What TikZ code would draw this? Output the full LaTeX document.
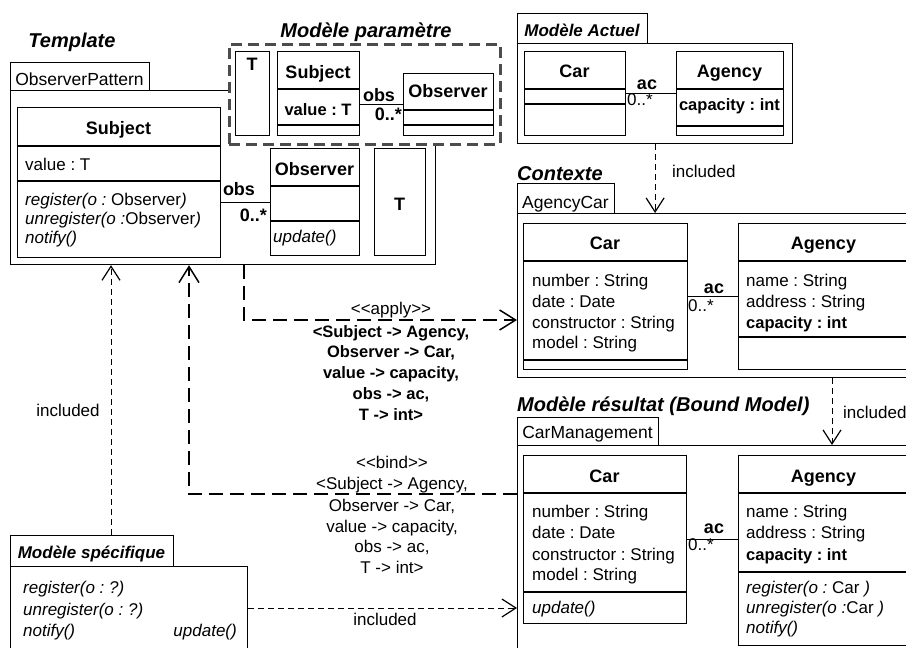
\documentclass[tikz,border=0pt]{standalone}
\usepackage{fontspec}
\setmainfont{Liberation Sans}
\usetikzlibrary{arrows.meta,calc}
\frenchspacing
\newcommand\ubx[5]{\node[ubox, minimum width=#4pt, minimum height=#5pt] (#1) at (#2,#3) {};}
\newcommand\usep[2]{\draw[line width=1.2pt] ($(#1.north west)+(0,#2)$) -- ($(#1.north east)+(0,#2)$);}
\tikzset{
 ubox/.style={draw, line width=1.2pt, anchor=north west, inner sep=0pt, fill=white},
 pbox/.style={draw=black!70, fill=white, line width=2.6pt, dash pattern=on 11pt off 6pt, anchor=north west, inner sep=0pt},
 txt/.style={inner sep=0pt, anchor=base, font=\fontsize{17}{20}\selectfont},
 txtl/.style={txt, anchor=base west},
 bld/.style={inner sep=0pt, anchor=base, font=\fontsize{16.5}{20}\selectfont\bfseries},
 lbl/.style={inner sep=0pt, anchor=base, font=\fontsize{18}{20}\selectfont\bfseries},
 cname/.style={inner sep=0pt, anchor=base, font=\fontsize{18}{20}\selectfont\bfseries},
 ttl/.style={inner sep=0pt, anchor=base, font=\fontsize{20}{22}\selectfont\bfseries\itshape},
 tabi/.style={inner sep=0pt, anchor=base, font=\fontsize{17}{20}\selectfont\bfseries\itshape},
 tabn/.style={inner sep=0pt, anchor=base, font=\fontsize{17.5}{20}\selectfont},
 assoc/.style={line width=1.2pt},
 incl/.style={line width=1pt, dash pattern=on 6pt off 4pt, -{Straight Barb[length=14pt,width=18pt,line width=1.2pt]}},
 bigarr/.style={line width=2.6pt, dash pattern=on 14pt off 7pt, -{Straight Barb[length=16pt,width=20pt,line width=1.5pt]}}
}
\begin{document}
\begin{tikzpicture}[x=1pt,y=-1pt]
\useasboundingbox (0,0) rectangle (906,648);
\clip (0,0) rectangle (906,648);
\fill[white] (0,0) rectangle (906,648);

% ---------- Template ----------
\node[ttl] (ttitle) at (72,47) {Template};
\ubx{ttab}{10}{62}{139}{28}
\node[tabn] (ttabname) at (79.5,85) {ObserverPattern};
\ubx{tb}{10}{90}{425}{174}

% ---------- Modele parametre ----------
\node[pbox, minimum width=271pt, minimum height=100pt] (pb) at (228,43) {};
\node[ttl] (ptitle) at (366,37) {Modèle paramètre};
\ubx{pT}{235}{51}{34}{84}
\node[cname] (pTn) at (252,70) {T};
\ubx{psub}{277}{51}{82}{84}
\usep{psub}{38}\usep{psub}{74}
\node[cname] (psubn) at (318,78) {Subject};
\node[bld] (psuba) at (318,115) {value : T};
\ubx{pobs}{403}{73}{90}{62}
\usep{pobs}{37}\usep{pobs}{52}
\node[cname] (pobsn) at (448,97) {Observer};
\draw[assoc] (pobs.west -| psub.east) -- (pobs.west);
\node[lbl] (pobsl) at (379,101) {obs};
\node[lbl, anchor=base east] (pobsm) at (402,120) {0..*};

% ---------- Template contents ----------
\ubx{tsub}{17}{107}{203}{150}
\usep{tsub}{39}\usep{tsub}{74}
\node[cname] (tsubn) at (118.5,134) {Subject};
\node[txtl] (tsuba) at (25,170) {value : T};
\node[txtl] (tsubm1) at (25,205) {\textit{register(o :} Observer\textit{)}};
\node[txtl] (tsubm2) at (25,224) {\textit{unregister(o :}Observer\textit{)}};
\node[txtl] (tsubm3) at (25,243) {\textit{notify()}};
\ubx{tobs}{270}{148}{89}{107}
\usep{tobs}{38}\usep{tobs}{73}
\node[cname] (tobsn) at (314.5,175) {Observer};
\node[txtl] (tobsm) at (273,242) {\textit{update()}};
\ubx{tT}{374}{148}{51}{107}
\node[cname] (tTn) at (399.5,210) {T};
\draw[assoc] (tobs.west -| tsub.east) -- (tobs.west);
\node[lbl] (tobsl) at (239,195) {obs};
\node[lbl, anchor=base east] (tobsm2) at (267,221) {0..*};

% ---------- Modele Actuel ----------
\ubx{atab}{517}{13}{130}{30}
\node[tabi] (atitle) at (582,36) {Modèle Actuel};
\ubx{ab}{517}{43}{275}{100}
\ubx{acar}{524}{51}{101}{84}
\usep{acar}{38}\usep{acar}{53}
\node[cname] (acarn) at (574.5,77) {Car};
\ubx{aag}{676}{51}{107}{84}
\usep{aag}{38}\usep{aag}{75}
\node[cname] (aagn) at (729.5,77) {Agency};
\node[bld] (aaga) at (729.5,110) {capacity : int};
\draw[assoc] (acar.east) -- (acar.east -| aag.west);
\node[lbl] (aacl) at (647,89) {ac};
\node[txtl] (aacm) at (627,105) {0..*};

% ---------- Contexte ----------
\node[ttl, anchor=base west] (ctitle) at (517,180) {Contexte};
\ubx{ctab}{517}{183}{97}{30}
\node[tabn] (ctabname) at (565.5,208) {AgencyCar};
\ubx{cb}{517}{213}{420}{164}
\ubx{ccar}{523}{223}{164}{146}
\usep{ccar}{38}\usep{ccar}{137}
\node[cname] (ccarn) at (605,249) {Car};
\node[txtl] (ccara1) at (532,286) {number : String};
\node[txtl] (ccara2) at (532,307) {date : Date};
\node[txtl] (ccara3) at (532,328) {constructor : String};
\node[txtl] (ccara4) at (532,348) {model : String};
\ubx{cag}{738}{223}{190}{146}
\usep{cag}{38}\usep{cag}{114}
\node[cname] (cagn) at (823.5,249) {Agency};
\node[txtl] (caga1) at (746,286) {name : String};
\node[txtl] (caga2) at (746,307) {address : String};
\node[bld, anchor=base west] (caga3) at (746,328) {capacity : int};
\draw[assoc] (ccar.east) -- (ccar.east -| cag.west);
\node[lbl] (cacl) at (714,293) {ac};
\node[txtl] (cacm) at (688,311) {0..*};

\draw[incl] (ab.south) -- (ab.south |- cb.north);
\node[txtl] (inc1) at (672,177) {included};

% ---------- Modele resultat ----------
\node[ttl, anchor=base west] (rtitle) at (517,411) {Modèle résultat (Bound Model)};
\ubx{rtab}{517}{417}{141}{28}
\node[tabn] (rtabname) at (587.5,438) {CarManagement};
\ubx{rb}{517}{445}{420}{230}
\ubx{rcar}{523}{455}{163}{168}
\usep{rcar}{38}\usep{rcar}{137}
\node[cname] (rcarn) at (604.5,482) {Car};
\node[txtl] (rcara1) at (532,517) {number : String};
\node[txtl] (rcara2) at (532,538) {date : Date};
\node[txtl] (rcara3) at (532,560) {constructor : String};
\node[txtl] (rcara4) at (532,580) {model : String};
\node[txtl] (rcarm) at (532,613) {\textit{update()}};
\ubx{rag}{738}{455}{190}{190}
\usep{rag}{38}\usep{rag}{117}
\node[cname] (ragn) at (823.5,482) {Agency};
\node[txtl] (raga1) at (746,517) {name : String};
\node[txtl] (raga2) at (746,538) {address : String};
\node[bld, anchor=base west] (raga3) at (746,560) {capacity : int};
\node[txtl] (ragm1) at (746,593) {\textit{register(o :} Car \textit{)}};
\node[txtl] (ragm2) at (746,613) {\textit{unregister(o :}Car \textit{)}};
\node[txtl] (ragm3) at (746,633) {\textit{notify()}};
\draw[assoc] (rcar.east) -- (rcar.east -| rag.west);
\node[lbl] (racl) at (714,533) {ac};
\node[txtl] (racm) at (688,550) {0..*};

\draw[incl] ($(cb.south west)+(315,0)$) -- ($(rb.north west)+(315,0)$);
\node[txtl] (inc2) at (843,418) {included};

% ---------- apply ----------
\draw[bigarr] ($(tb.south west)+(234,0)$) |- ($(cb.north west)+(0,107)$);
\node[txt] (app0) at (391,314) {<{}<apply>{}>};
\node[bld] (app1) at (391,337) {<Subject -> Agency,};
\node[bld] (app2) at (391,357) {Observer -> Car,};
\node[bld] (app3) at (391,378) {value -> capacity,};
\node[bld] (app4) at (391,399) {obs -> ac,};
\node[bld] (app5) at (391,420) {T -> int>};

% ---------- bind ----------
\draw[bigarr] ($(rb.north west)+(0,49)$) -| ($(tb.south west)+(179,0)$);
\node[txt] (bnd0) at (392,468) {<{}<bind>{}>};
\node[txt] (bnd1) at (392,489) {<Subject -> Agency,};
\node[txt] (bnd2) at (392,511) {Observer -> Car,};
\node[txt] (bnd3) at (392,532) {value -> capacity,};
\node[txt] (bnd4) at (392,552) {obs -> ac,};
\node[txt] (bnd5) at (392,573) {T -> int>};

% ---------- Modele specifique ----------
\ubx{stab}{10}{535}{163}{31}
\node[tabi] (stitle) at (91.5,558) {Modèle spécifique};
\ubx{sb}{10}{566}{237}{100}
\node[txtl] (sm1) at (23,593) {\textit{register(o : ?)}};
\node[txtl] (sm2) at (23,615) {\textit{unregister(o : ?)}};
\node[txtl] (sm3) at (23,636) {\textit{notify()}};
\node[txt, anchor=base east] (sm4) at (237,636) {\textit{update()}};

\draw[incl] ($(stab.north west)+(101,0)$) -- ($(tb.south west)+(101,0)$);
\node[txt] (inc3) at (68,416) {included};
\coordinate (sp) at ($(sb.north east)+(0,42)$);
\draw[incl] (sp) -- (sp -| rb.west);
\node[txt] (inc4) at (385,625) {included};
\end{tikzpicture}
\end{document}
